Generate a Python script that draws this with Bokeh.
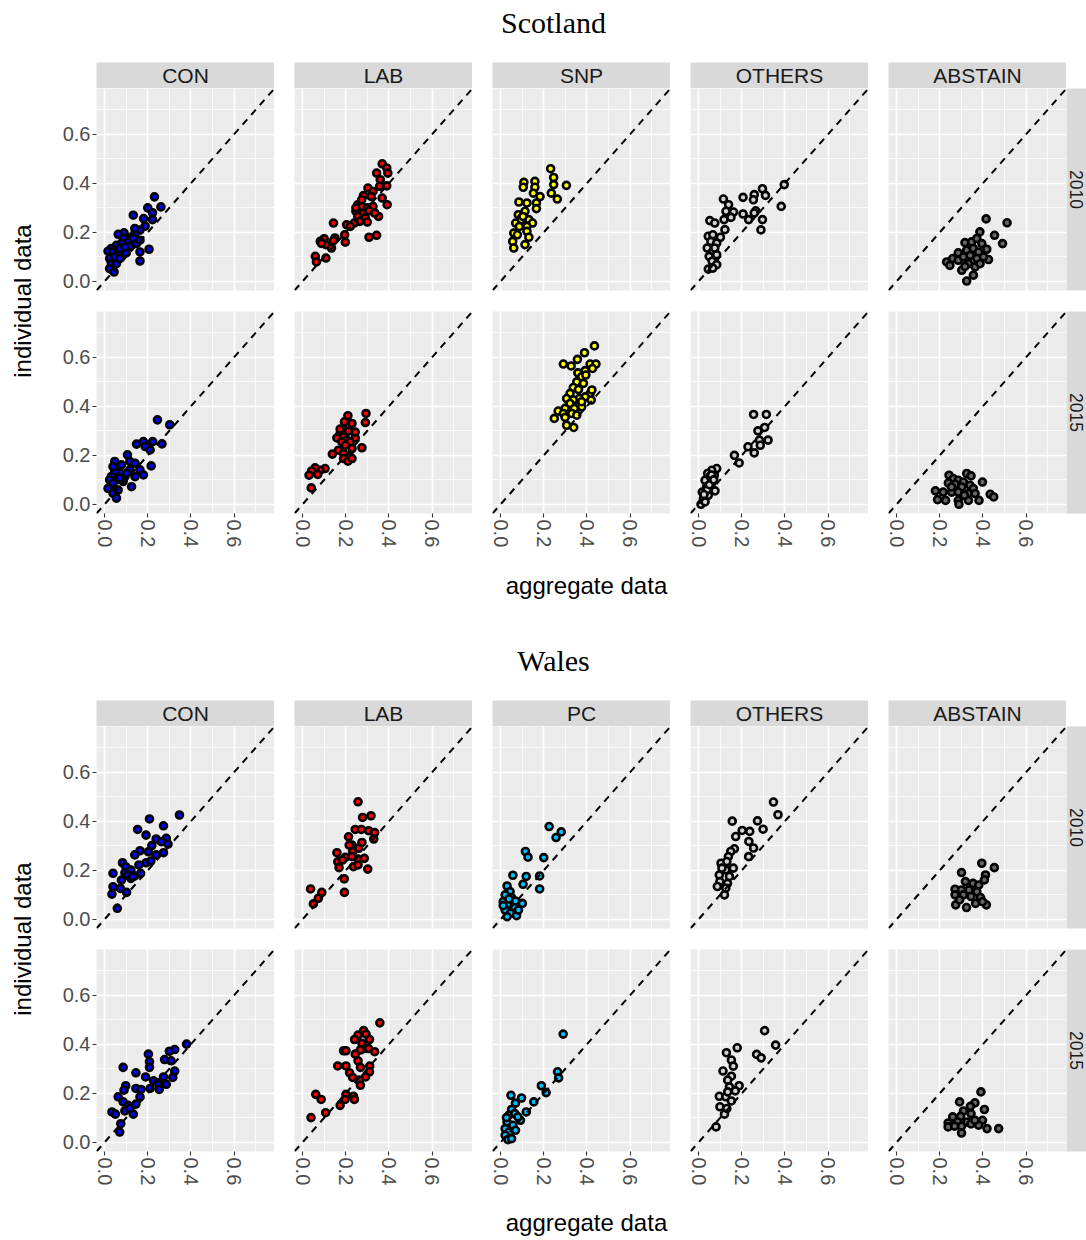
import math
from bokeh.plotting import figure
from bokeh.layouts import row, column
from bokeh.models import Range1d, FixedTicker, PrintfTickFormatter, Grid, Slope, Label, Spacer
from bokeh.embed import file_html
from bokeh.resources import INLINE

# ---------------- data ----------------
TICKS = [0.0, 0.2, 0.4, 0.6]
MINOR_TICKS = [0.1, 0.3, 0.5, 0.7]
LIMITS = (-0.0375, 0.7875)
YEARS = ["2010", "2015"]
SCO_PARTIES = ["CON", "LAB", "SNP", "OTHERS", "ABSTAIN"]
WAL_PARTIES = ["CON", "LAB", "PC", "OTHERS", "ABSTAIN"]
FILLS = {"CON": "#0000FF", "LAB": "#FF0000", "SNP": "#FFFF00", "PC": "#00BFFF",
         "OTHERS": "#D3D3D3", "ABSTAIN": "#666666"}

# Scotland 2010
SCO_2010_CON_X = [0.231,0.261,0.200,0.222,0.222,0.181,0.133,0.206,0.164,0.164,0.188,0.164,0.140,0.125,0.090,0.063,0.086,0.110,0.133,0.148,0.164,0.078,0.055,0.031,0.016,0.039,0.063,0.081,0.100,0.023,0.047,0.031,0.023,0.055,0.070,0.117,0.070,0.140,0.094,0.044]
SCO_2010_CON_Y = [0.345,0.304,0.300,0.280,0.252,0.256,0.270,0.131,0.120,0.083,0.225,0.209,0.195,0.181,0.198,0.192,0.175,0.161,0.175,0.154,0.168,0.154,0.147,0.134,0.123,0.120,0.116,0.130,0.116,0.093,0.100,0.072,0.052,0.072,0.093,0.143,0.134,0.216,0.140,0.038]
SCO_2010_LAB_X = [0.369,0.390,0.395,0.343,0.360,0.390,0.357,0.303,0.326,0.282,0.317,0.369,0.392,0.256,0.273,0.300,0.326,0.247,0.282,0.308,0.352,0.256,0.291,0.334,0.300,0.265,0.239,0.204,0.221,0.143,0.308,0.343,0.195,0.198,0.150,0.143,0.100,0.082,0.108,0.134,0.087,0.059,0.108,0.064,0.274,0.247]
SCO_2010_LAB_Y = [0.480,0.463,0.442,0.442,0.415,0.390,0.388,0.381,0.367,0.350,0.347,0.340,0.313,0.313,0.306,0.300,0.306,0.286,0.279,0.288,0.265,0.265,0.259,0.279,0.242,0.245,0.238,0.231,0.224,0.238,0.180,0.188,0.190,0.160,0.177,0.166,0.174,0.163,0.150,0.136,0.155,0.102,0.095,0.079,0.333,0.300]
SCO_2010_SNP_X = [0.232,0.246,0.246,0.305,0.235,0.263,0.108,0.105,0.159,0.159,0.152,0.183,0.166,0.166,0.085,0.122,0.113,0.082,0.096,0.131,0.148,0.070,0.087,0.122,0.061,0.078,0.122,0.131,0.056,0.061,0.113,0.096,0.104]
SCO_2010_SNP_Y = [0.460,0.424,0.395,0.392,0.360,0.336,0.404,0.384,0.408,0.384,0.360,0.346,0.320,0.297,0.324,0.320,0.286,0.272,0.258,0.252,0.238,0.238,0.224,0.224,0.197,0.190,0.204,0.180,0.163,0.136,0.150,0.252,0.265]
SCO_2010_OTH_X = [0.397,0.383,0.296,0.310,0.258,0.254,0.206,0.265,0.258,0.296,0.289,0.232,0.206,0.115,0.139,0.127,0.162,0.150,0.118,0.052,0.075,0.122,0.101,0.045,0.066,0.057,0.084,0.040,0.066,0.084,0.049,0.063,0.084,0.045,0.066,0.075]
SCO_2010_OTH_Y = [0.395,0.306,0.378,0.351,0.354,0.333,0.343,0.288,0.279,0.252,0.210,0.252,0.275,0.336,0.313,0.286,0.283,0.261,0.252,0.248,0.238,0.211,0.180,0.184,0.190,0.163,0.156,0.136,0.122,0.109,0.102,0.082,0.068,0.050,0.054,0.136]
SCO_2010_ABS_X = [0.415,0.512,0.386,0.454,0.491,0.317,0.348,0.372,0.395,0.418,0.286,0.325,0.356,0.380,0.426,0.232,0.260,0.247,0.286,0.310,0.341,0.372,0.403,0.302,0.333,0.364,0.356,0.325,0.387,0.317]
SCO_2010_ABS_Y = [0.255,0.239,0.202,0.188,0.154,0.158,0.161,0.175,0.154,0.131,0.116,0.127,0.134,0.120,0.089,0.079,0.093,0.065,0.086,0.100,0.106,0.093,0.100,0.045,0.072,0.059,0.025,0.001,0.072,0.061]

# Scotland 2015
SCO_2015_CON_X = [0.245,0.302,0.266,0.223,0.180,0.148,0.188,0.211,0.216,0.106,0.047,0.078,0.117,0.141,0.117,0.164,0.180,0.141,0.125,0.094,0.070,0.047,0.031,0.023,0.055,0.086,0.039,0.016,0.047,0.039,0.055,0.063,0.070,0.102,0.039]
SCO_2015_CON_Y = [0.345,0.325,0.247,0.256,0.256,0.246,0.236,0.222,0.157,0.202,0.175,0.161,0.175,0.168,0.141,0.141,0.120,0.113,0.072,0.113,0.130,0.134,0.113,0.100,0.100,0.093,0.086,0.065,0.061,0.045,0.025,0.058,0.107,0.127,0.154]
SCO_2015_LAB_X = [0.294,0.291,0.210,0.229,0.194,0.190,0.213,0.174,0.244,0.159,0.190,0.205,0.182,0.221,0.198,0.229,0.275,0.166,0.138,0.190,0.221,0.190,0.210,0.229,0.104,0.081,0.058,0.042,0.030,0.070,0.040,0.174,0.244]
SCO_2015_LAB_Y = [0.371,0.334,0.362,0.330,0.337,0.307,0.299,0.289,0.271,0.271,0.275,0.262,0.255,0.255,0.241,0.228,0.231,0.221,0.205,0.207,0.194,0.187,0.176,0.187,0.146,0.139,0.149,0.136,0.119,0.122,0.067,0.307,0.295]
SCO_2015_SNP_X = [0.435,0.389,0.356,0.291,0.327,0.415,0.442,0.426,0.392,0.358,0.376,0.395,0.353,0.384,0.337,0.361,0.322,0.415,0.392,0.364,0.306,0.337,0.420,0.322,0.361,0.342,0.376,0.299,0.267,0.291,0.330,0.353,0.249,0.299,0.306,0.339,0.376,0.423]
SCO_2015_SNP_Y = [0.647,0.619,0.592,0.573,0.565,0.573,0.573,0.555,0.546,0.537,0.521,0.528,0.500,0.494,0.477,0.469,0.453,0.453,0.439,0.432,0.432,0.426,0.426,0.412,0.401,0.392,0.398,0.392,0.381,0.371,0.371,0.364,0.351,0.355,0.323,0.314,0.419,0.467]
SCO_2015_OTH_X = [0.255,0.314,0.306,0.275,0.282,0.322,0.286,0.229,0.258,0.166,0.188,0.084,0.061,0.042,0.073,0.053,0.030,0.061,0.076,0.037,0.017,0.011,0.022,0.045,0.030,0.053,0.040,0.050,0.025,0.060,0.070]
SCO_2015_OTH_Y = [0.367,0.367,0.314,0.300,0.262,0.262,0.241,0.235,0.210,0.200,0.169,0.146,0.139,0.126,0.119,0.105,0.098,0.087,0.055,0.071,0.050,0.000,0.023,0.037,0.010,0.114,0.060,0.080,0.040,0.120,0.100]
SCO_2015_ABS_X = [0.325,0.345,0.243,0.263,0.286,0.310,0.398,0.240,0.271,0.302,0.340,0.356,0.180,0.216,0.255,0.286,0.333,0.364,0.434,0.450,0.190,0.227,0.286,0.333,0.382,0.289,0.314,0.255]
SCO_2015_ABS_Y = [0.126,0.116,0.119,0.105,0.098,0.091,0.091,0.087,0.082,0.071,0.078,0.064,0.055,0.050,0.050,0.050,0.044,0.044,0.041,0.030,0.019,0.016,0.016,0.016,0.016,0.000,0.037,0.071]

# Wales 2010
WAL_2010_CON_X = [0.347,0.208,0.273,0.153,0.192,0.239,0.286,0.294,0.263,0.219,0.164,0.140,0.203,0.239,0.273,0.159,0.192,0.214,0.167,0.083,0.098,0.122,0.094,0.109,0.039,0.078,0.122,0.140,0.039,0.073,0.102,0.034,0.059,0.130]
WAL_2010_CON_Y = [0.426,0.410,0.382,0.367,0.344,0.328,0.331,0.307,0.317,0.301,0.280,0.263,0.276,0.263,0.272,0.222,0.231,0.238,0.188,0.231,0.215,0.201,0.190,0.181,0.188,0.160,0.167,0.177,0.133,0.126,0.110,0.103,0.045,0.174]
WAL_2010_LAB_X = [0.257,0.278,0.317,0.213,0.244,0.272,0.306,0.334,0.330,0.275,0.229,0.232,0.159,0.198,0.163,0.185,0.229,0.257,0.286,0.169,0.236,0.257,0.302,0.193,0.194,0.037,0.089,0.073,0.050,0.216,0.260]
WAL_2010_LAB_Y = [0.480,0.416,0.423,0.337,0.367,0.367,0.362,0.354,0.328,0.314,0.303,0.276,0.272,0.253,0.235,0.242,0.256,0.246,0.249,0.211,0.215,0.222,0.205,0.165,0.110,0.124,0.110,0.086,0.063,0.303,0.290]
WAL_2010_PC_X = [0.225,0.281,0.257,0.115,0.127,0.200,0.057,0.119,0.181,0.104,0.181,0.030,0.044,0.021,0.051,0.101,0.012,0.034,0.062,0.021,0.046,0.074,0.030,0.012,0.069,0.039,0.083]
WAL_2010_PC_Y = [0.379,0.357,0.334,0.277,0.254,0.252,0.180,0.175,0.177,0.143,0.124,0.136,0.113,0.100,0.089,0.065,0.072,0.061,0.052,0.038,0.025,0.015,0.011,0.056,0.075,0.083,0.038]
WAL_2010_OTH_X = [0.347,0.368,0.156,0.273,0.299,0.202,0.237,0.172,0.233,0.255,0.166,0.149,0.138,0.232,0.104,0.161,0.126,0.096,0.143,0.099,0.134,0.087,0.126,0.120,0.108,0.131]
WAL_2010_OTH_Y = [0.479,0.427,0.401,0.402,0.368,0.363,0.359,0.338,0.318,0.291,0.288,0.277,0.256,0.256,0.229,0.209,0.202,0.181,0.175,0.154,0.147,0.134,0.127,0.100,0.209,0.236]
WAL_2010_ABS_X = [0.395,0.453,0.301,0.412,0.407,0.319,0.354,0.381,0.271,0.301,0.336,0.372,0.271,0.310,0.345,0.389,0.274,0.324,0.366,0.416,0.398,0.292]
WAL_2010_ABS_Y = [0.229,0.211,0.191,0.181,0.161,0.154,0.147,0.140,0.123,0.120,0.120,0.113,0.100,0.100,0.093,0.089,0.059,0.048,0.065,0.059,0.072,0.079]

# Wales 2015
WAL_2015_CON_X = [0.380,0.325,0.300,0.278,0.308,0.203,0.208,0.208,0.086,0.145,0.190,0.273,0.325,0.316,0.227,0.247,0.286,0.253,0.211,0.145,0.169,0.098,0.090,0.164,0.063,0.086,0.109,0.094,0.145,0.133,0.034,0.050,0.075,0.070,0.117]
WAL_2015_CON_Y = [0.401,0.379,0.372,0.338,0.333,0.360,0.329,0.306,0.306,0.284,0.267,0.267,0.291,0.265,0.251,0.243,0.237,0.216,0.220,0.220,0.216,0.231,0.213,0.186,0.186,0.165,0.151,0.128,0.156,0.115,0.124,0.115,0.076,0.042,0.138]
WAL_2015_LAB_X = [0.358,0.283,0.257,0.294,0.241,0.310,0.275,0.292,0.268,0.306,0.334,0.190,0.201,0.244,0.257,0.163,0.201,0.268,0.311,0.218,0.310,0.232,0.292,0.263,0.268,0.061,0.086,0.201,0.236,0.197,0.240,0.174,0.107,0.039]
WAL_2015_LAB_Y = [0.488,0.456,0.438,0.442,0.420,0.420,0.404,0.383,0.377,0.383,0.370,0.374,0.374,0.360,0.333,0.312,0.312,0.306,0.311,0.284,0.288,0.265,0.267,0.254,0.233,0.196,0.175,0.196,0.188,0.175,0.175,0.151,0.121,0.101]
WAL_2015_PC_X = [0.290,0.264,0.269,0.189,0.211,0.048,0.097,0.154,0.069,0.051,0.119,0.039,0.066,0.092,0.030,0.057,0.021,0.039,0.069,0.021,0.034,0.051,0.080,0.027]
WAL_2015_PC_Y = [0.442,0.288,0.263,0.231,0.203,0.192,0.181,0.165,0.160,0.134,0.124,0.111,0.117,0.090,0.083,0.070,0.056,0.042,0.049,0.029,0.011,0.015,0.104,0.101]
WAL_2015_OTH_X = [0.306,0.357,0.179,0.129,0.269,0.290,0.152,0.161,0.113,0.152,0.135,0.188,0.143,0.170,0.096,0.126,0.152,0.099,0.131,0.120,0.081,0.135]
WAL_2015_OTH_Y = [0.456,0.397,0.386,0.366,0.359,0.345,0.336,0.311,0.291,0.270,0.254,0.231,0.226,0.210,0.188,0.186,0.169,0.145,0.138,0.115,0.063,0.206]
WAL_2015_ABS_X = [0.391,0.292,0.363,0.342,0.407,0.310,0.260,0.297,0.345,0.398,0.239,0.283,0.327,0.380,0.239,0.301,0.345,0.419,0.473,0.301,0.363,0.269]
WAL_2015_ABS_Y = [0.206,0.165,0.161,0.147,0.134,0.128,0.104,0.106,0.117,0.090,0.079,0.083,0.083,0.070,0.063,0.066,0.075,0.056,0.056,0.038,0.090,0.066]

SCOTLAND = {
    "2010": [(SCO_2010_CON_X, SCO_2010_CON_Y), (SCO_2010_LAB_X, SCO_2010_LAB_Y), (SCO_2010_SNP_X, SCO_2010_SNP_Y),
             (SCO_2010_OTH_X, SCO_2010_OTH_Y), (SCO_2010_ABS_X, SCO_2010_ABS_Y)],
    "2015": [(SCO_2015_CON_X, SCO_2015_CON_Y), (SCO_2015_LAB_X, SCO_2015_LAB_Y), (SCO_2015_SNP_X, SCO_2015_SNP_Y),
             (SCO_2015_OTH_X, SCO_2015_OTH_Y), (SCO_2015_ABS_X, SCO_2015_ABS_Y)],
}
WALES = {
    "2010": [(WAL_2010_CON_X, WAL_2010_CON_Y), (WAL_2010_LAB_X, WAL_2010_LAB_Y), (WAL_2010_PC_X, WAL_2010_PC_Y),
             (WAL_2010_OTH_X, WAL_2010_OTH_Y), (WAL_2010_ABS_X, WAL_2010_ABS_Y)],
    "2015": [(WAL_2015_CON_X, WAL_2015_CON_Y), (WAL_2015_LAB_X, WAL_2015_LAB_Y), (WAL_2015_PC_X, WAL_2015_PC_Y),
             (WAL_2015_OTH_X, WAL_2015_OTH_Y), (WAL_2015_ABS_X, WAL_2015_ABS_Y)],
}

# ---------------- layout / style ----------------
TOTAL_W = 1086
PANEL_W, PANEL_H = 178, 202
GAP = 20
LEFT_AXIS = 58
BOTTOM_AXIS = 48
ROW1_BOTTOM = 10          # part of the gap between facet rows, below row 1
ROW2_TOP = 11             # rest of the gap, above row 2
STRIP_H = 26
STRIP_W = 20
YLAB_W = 38
BODY_H = STRIP_H + PANEL_H + ROW1_BOTTOM + ROW2_TOP + PANEL_H + BOTTOM_AXIS
SANS = "Liberation Sans"
SERIF = "Liberation Serif"
BG = "#EBEBEB"
STRIP_BG = "#D9D9D9"


def bare(width, height, xr, yr, left=0, right=0, top=0, bottom=0):
    p = figure(width=width, height=height, x_range=xr, y_range=yr,
               x_axis_location=None, y_axis_location=None,
               output_backend="svg", toolbar_location=None,
               min_border_left=left, min_border_right=right,
               min_border_top=top, min_border_bottom=bottom)
    p.center = []
    p.outline_line_color = None
    p.border_fill_color = "white"
    return p


def text_fig(width, height, text, x, y_from_top, font, size, angle=0.0, color="black"):
    p = bare(width, height, Range1d(0, width), Range1d(0, height))
    p.background_fill_color = "white"
    p.add_layout(Label(x=x, y=height - y_from_top, text=text, angle=angle,
                       text_align="center", text_baseline="middle",
                       text_font=font, text_font_size=size, text_color=color))
    return p


def style_axis(ax):
    ax.ticker = FixedTicker(ticks=TICKS)
    ax.formatter = PrintfTickFormatter(format="%.1f")
    ax.axis_line_color = None
    ax.major_tick_line_color = "#333333"
    ax.major_tick_line_width = 1.1
    ax.major_tick_in = 0
    ax.major_tick_out = 4
    ax.minor_tick_line_color = None
    ax.major_label_text_color = "#4D4D4D"
    ax.major_label_text_font = SANS
    ax.major_label_text_font_size = "20px"
    ax.major_label_standoff = 2


def panel(xs, ys, fill, first_col, last_row):
    left = LEFT_AXIS if first_col else GAP
    top = ROW2_TOP if last_row else 0
    bottom = BOTTOM_AXIS if last_row else ROW1_BOTTOM
    p = figure(width=PANEL_W + left, height=PANEL_H + top + bottom,
               x_range=Range1d(*LIMITS), y_range=Range1d(*LIMITS),
               x_axis_location="below" if last_row else None,
               y_axis_location="left" if first_col else None,
               output_backend="svg", toolbar_location=None,
               min_border_left=left, min_border_right=0,
               min_border_top=top, min_border_bottom=bottom)
    p.center = []
    p.background_fill_color = BG
    p.border_fill_color = "white"
    p.outline_line_color = None
    for dim in (0, 1):
        p.add_layout(Grid(dimension=dim, ticker=FixedTicker(ticks=TICKS, minor_ticks=MINOR_TICKS),
                          grid_line_color="white", grid_line_width=1.6,
                          minor_grid_line_color="white", minor_grid_line_width=0.8))
    if first_col:
        style_axis(p.yaxis[0])
    if last_row:
        style_axis(p.xaxis[0])
        p.xaxis[0].major_label_orientation = -math.pi / 2
    p.scatter(xs, ys, size=7, fill_color=fill, line_color="black", line_width=2.6)
    p.add_layout(Slope(gradient=1, y_intercept=0, line_color="black",
                       line_dash="7 6", line_width=2))
    return p


def strip_top(text, left):
    p = bare(PANEL_W + left, STRIP_H, Range1d(0, 1), Range1d(0, 1), left=left)
    p.background_fill_color = STRIP_BG
    p.add_layout(Label(x=0.5, y=0.5, text=text, text_align="center", text_baseline="middle",
                       text_font=SANS, text_font_size="21px", text_color="#1A1A1A"))
    return p


def strip_right(text, top, bottom):
    p = bare(STRIP_W, PANEL_H + top + bottom, Range1d(0, STRIP_W), Range1d(0, 1), top=top, bottom=bottom)
    p.background_fill_color = STRIP_BG
    p.add_layout(Label(x=STRIP_W / 2, y=0.5, text=text, angle=-math.pi / 2,
                       text_align="center", text_baseline="middle",
                       text_font=SANS, text_font_size="17.5px", text_color="#1A1A1A"))
    return p


def region(title, parties, data, title_h, title_y, xlab_h, xlab_y):
    title_fig = text_fig(TOTAL_W, title_h, title, 553, title_y, SERIF, "30px")
    ylab = text_fig(YLAB_W, BODY_H, "individual data", 22, 238.5, SANS, "24px", angle=math.pi / 2)
    strips = row([strip_top(pt, LEFT_AXIS if i == 0 else GAP) for i, pt in enumerate(parties)]
                 + [Spacer(width=STRIP_W, height=STRIP_H)])
    rows = []
    for r, year in enumerate(YEARS):
        last = r == len(YEARS) - 1
        figs = [panel(xs, ys, FILLS[pt], i == 0, last)
                for i, (pt, (xs, ys)) in enumerate(zip(parties, data[year]))]
        figs.append(strip_right(year, ROW2_TOP if last else 0, BOTTOM_AXIS if last else ROW1_BOTTOM))
        rows.append(row(figs))
    grid = column([strips] + rows)
    body = row([ylab, grid])
    xlab = text_fig(TOTAL_W, xlab_h, "aggregate data", 586, xlab_y, SANS, "24px")
    return [title_fig, body, xlab]


layout = column(region("Scotland", SCO_PARTIES, SCOTLAND, 62, 22, 49, 24)
                + region("Wales", WAL_PARTIES, WALES, 90, 50, 41, 23))

open("out.html", "w").write(file_html(layout, INLINE))
